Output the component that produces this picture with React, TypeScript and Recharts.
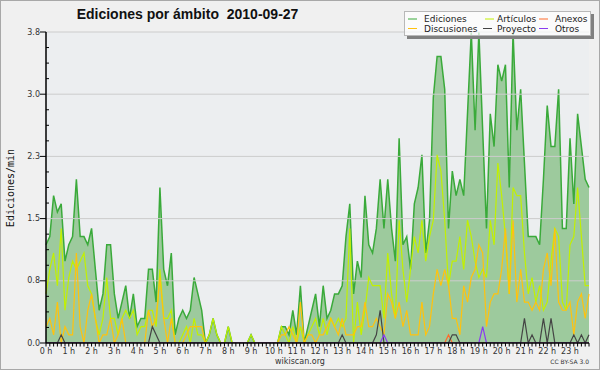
import React from 'react';
import { ComposedChart, Area, Line, XAxis, YAxis, ReferenceLine, CartesianGrid } from 'recharts';

const HOUR_LABELS = ["0 h","1 h","2 h","3 h","4 h","5 h","6 h","7 h","8 h","9 h","10 h","11 h","12 h","13 h","14 h","15 h","16 h","17 h","18 h","19 h","20 h","21 h","22 h","23 h"];

const EDICIONES = [
  1.2, 1.3, 1.8, 1.6, 1.7, 1.0, 1.2, 1.3, 2.0, 1.3,
  1.3, 1.2, 1.4, 0.9, 0.4, 0.6, 1.2, 1.2, 0.6, 0.3,
  0.5, 0.7, 0.3, 0.6, 0.2, 0.3, 0.3, 0.9, 0.9, 0.5,
  1.9, 0.9, 0.7, 1.1, 0.1, 0.3, 0.4, 0.3, 0.4, 0.8,
  0.6, 0.4, 0.0, 0.1, 0.3, 0.1, 0.0, 0.0, 0.2, 0.0,
  0, 0, 0, 0, 0.1, 0, 0, 0, 0, 0,
  0, 0, 0.2, 0.2, 0.1, 0.4, 0.1, 0.7, 0.0, 0.2,
  0.4, 0.6, 0.2, 0.7, 0.3, 0.4, 0.6, 0.6, 0.7, 1.3,
  1.7, 0.6, 1.0, 0.8, 1.8, 1.2, 1.1, 1.4, 2.0, 1.4,
  2.0, 1.4, 1.0, 2.5, 1.2, 1.3, 0.9, 1.7, 1.9, 2.3,
  1.1, 1.5, 3.0, 3.5, 3.5, 3.1, 1.4, 2.1, 1.8, 2.0,
  1.8, 2.8, 3.8, 2.6, 3.8, 2.6, 1.4, 2.8, 2.4, 3.4,
  3.2, 3.4, 1.9, 3.8, 2.6, 3.1, 2.2, 1.3, 1.3, 1.3,
  1.2, 2.0, 2.9, 2.4, 2.4, 3.1, 1.4, 1.4, 2.5, 1.7,
  2.8, 2.4, 2.0, 1.9,
];

const ARTICULOS = [
  0.6, 0.9, 1.1, 0.7, 1.4, 0.4, 0.8, 1.0, 0.9, 1.0,
  1.1, 0.7, 0.6, 0.3, 0.1, 0.3, 0.8, 0.3, 0.3, 0.1,
  0.3, 0.4, 0.3, 0.4, 0.1, 0.2, 0.2, 0.4, 0.4, 0.2,
  0.9, 0.3, 0.3, 0.4, 0.0, 0.0, 0.1, 0.2, 0.0, 0.3,
  0.1, 0.1, 0.0, 0.1, 0.3, 0.1, 0.0, 0.0, 0.2, 0.0,
  0, 0, 0, 0, 0.1, 0, 0, 0, 0, 0,
  0, 0, 0.2, 0.1, 0.0, 0.2, 0.0, 0.2, 0.0, 0.1,
  0.2, 0.3, 0.1, 0.3, 0.1, 0.3, 0.2, 0.3, 0.2, 0.3,
  1.4, 0.0, 0.5, 0.1, 0.4, 0.8, 0.7, 0.7, 0.7, 0.3,
  1.1, 0.6, 0.3, 1.5, 0.9, 0.5, 0.9, 1.3, 1.1, 1.5,
  1.0, 1.3, 1.5, 2.3, 2.1, 1.5, 0.7, 1.0, 1.0, 1.3,
  0.9, 1.5, 1.3, 1.0, 0.8, 0.9, 0.8, 1.5, 1.2, 2.2,
  1.8, 1.3, 0.6, 1.9, 1.8, 1.8, 1.1, 0.6, 0.8, 0.5,
  0.7, 0.4, 0.5, 1.0, 1.4, 1.3, 0.5, 0.4, 1.2, 1.3,
  1.9, 1.3, 0.7, 0.7,
];

const DISCUSIONES = [
  0.2, 0.3, 0.1, 0.5, 0.0, 0.2, 0.1, 0.1, 1.1, 0.2,
  0.0, 0.4, 0.6, 0.3, 0.0, 0.1, 0.1, 0.3, 0.0, 0.1,
  0.3, 0.0, 0.0, 0.0, 0.0, 0.0, 0.0, 0.4, 0.2, 0.3,
  0.8, 0.3, 0.0, 0.3, 0.0, 0.0, 0.0, 0.1, 0.2, 0.2,
  0.2, 0.2, 0, 0, 0, 0, 0, 0, 0, 0,
  0, 0, 0, 0, 0, 0, 0, 0, 0, 0,
  0, 0, 0.1, 0.1, 0.2, 0.1, 0.0, 0.5, 0.0, 0.1,
  0.1, 0.0, 0.1, 0.1, 0.2, 0.3, 0.2, 0.1, 0.3, 0.1,
  0.1, 0.1, 0.2, 0.2, 0.5, 0.2, 0.2, 0.3, 0.2, 0.1,
  0.6, 0.5, 0.3, 0.5, 0.2, 0.4, 0.1, 0.1, 0.1, 0.5,
  0.1, 0.2, 0.6, 0.9, 0.7, 0.9, 0.7, 0.3, 0.3, 0.1,
  0.7, 0.5, 0.8, 0.9, 1.2, 1.1, 0.2, 0.5, 0.6, 0.6,
  0.9, 1.4, 0.6, 1.5, 0.5, 0.9, 0.5, 0.5, 0.4, 0.5,
  0.4, 0.9, 1.1, 0.7, 1.4, 0.5, 0.4, 0.4, 0.5, 0.1,
  0.5, 0.6, 0.3, 0.6,
];

// sparse series: [10-minute slot index, value]
const ANEXOS_PTS: [number, number][] = [[106, 0.1]];
const PROYECTO_PTS: [number, number][] = [
  [4, 0.1], [28, 0.2], [29, 0.1], [78, 0.1], [87, 0.1], [88, 0.4], [107, 0.1], [108, 0.1],
  [126, 0.3], [128, 0.1], [131, 0.3], [133, 0.3], [139, 0.1], [141, 0.1], [143, 0.1],
];
const OTROS_PTS: [number, number][] = [[89, 0.1], [115, 0.2]];

const Y_MAJOR = [0, 0.76, 1.52, 2.28, 3.04, 3.8];
const Y_LABELS = ["0.0", "0.8", "1.5", "2.3", "3.0", "3.8"];

const N = EDICIONES.length;
const fromPts = (pts: [number, number][]) => {
  const a = new Array(N).fill(0);
  pts.forEach(([i, v]) => { a[i] = v; });
  return a;
};
const ANEXOS = fromPts(ANEXOS_PTS);
const PROYECTO = fromPts(PROYECTO_PTS);
const OTROS = fromPts(OTROS_PTS);

const data = EDICIONES.map((v, i) => ({
  i,
  ed: v,
  art: ARTICULOS[i],
  disc: DISCUSIONES[i],
  anx: ANEXOS[i],
  proy: PROYECTO[i],
  otr: OTROS[i],
}));

const X_TICKS = data.map((d) => d.i);
const Y_TICKS: number[] = [];
for (let k = 0; k < Y_MAJOR.length - 1; k++) {
  const a = Y_MAJOR[k], b = Y_MAJOR[k + 1];
  for (let j = 0; j < 4; j++) Y_TICKS.push(a + ((b - a) * j) / 4);
}
Y_TICKS.push(Y_MAJOR[Y_MAJOR.length - 1]);

const C_ED = '#3aaa3a';
const C_ED_FILL = '#9dca9d';
const C_ART = '#c2f000';
const C_DISC = '#ffc20e';
const C_ANX = '#ff6a2a';
const C_PROY = '#444444';
const C_OTR = '#8a3cf0';

const YTick = (props: any) => {
  const { x, y, payload } = props;
  const idx = Y_MAJOR.findIndex((m) => Math.abs(m - payload.value) < 1e-6);
  if (idx >= 0) {
    return (
      <g>
        <line x1={x - 6} x2={x} y1={y} y2={y} stroke="#000" strokeWidth={1} />
        <text x={x - 6} y={y} dy={2.5} textAnchor="end" fontSize={8} fill="#333" fontFamily="DejaVu Sans">
          {Y_LABELS[idx]}
        </text>
      </g>
    );
  }
  return <line x1={x} x2={x + 3} y1={y} y2={y} stroke="#000" strokeWidth={1} />;
};

const XTick = (props: any) => {
  const { x, y, payload } = props;
  const i = payload.value;
  const isHour = i % 6 === 0;
  return (
    <g>
      <line x1={x} x2={x} y1={y} y2={y + 3.5} stroke="#000" strokeWidth={1} />
      {isHour && (
        <text x={x} y={y + 10.5} textAnchor="middle" fontSize={8} fill="#333" fontFamily="DejaVu Sans">
          {HOUR_LABELS[i / 6]}
        </text>
      )}
    </g>
  );
};

const LEGEND = [
  { name: 'Ediciones', color: C_ED, sx: 408, tx: 424, row: 0 },
  { name: 'Artículos', color: C_ART, sx: 485, tx: 497, row: 0 },
  { name: 'Anexos', color: C_ANX, sx: 539, tx: 555, row: 0 },
  { name: 'Discusiones', color: C_DISC, sx: 408, tx: 424, row: 1 },
  { name: 'Proyecto', color: C_PROY, sx: 483, tx: 497, row: 1 },
  { name: 'Otros', color: C_OTR, sx: 539, tx: 555, row: 1 },
];

export default function App() {
  return (
    <div style={{ position: 'absolute', left: 0, top: 0, width: 600, height: 370, background: '#f0f0f0', overflow: 'hidden' }}>
      <ComposedChart
        width={600}
        height={370}
        data={data}
        margin={{ top: 32, right: 11, bottom: 0, left: 0 }}
        style={{ fontFamily: 'DejaVu Sans' }}
      >
        <CartesianGrid horizontal={false} vertical={false} fill="#eceef0" fillOpacity={1} stroke="none" />
        {Y_MAJOR.slice(1).map((v) => (
          <ReferenceLine key={v} y={v} stroke="#cccccc" strokeWidth={1} ifOverflow="extendDomain" />
        ))}
        <Area type="linear" dataKey="ed" stroke={C_ED} strokeWidth={1.5} fill={C_ED_FILL} fillOpacity={1} dot={false} activeDot={false} isAnimationActive={false} />
        <Line type="linear" dataKey="art" stroke={C_ART} strokeWidth={1.2} dot={false} activeDot={false} isAnimationActive={false} />
        <Line type="linear" dataKey="disc" stroke={C_DISC} strokeWidth={1.2} dot={false} activeDot={false} isAnimationActive={false} />
        <Line type="linear" dataKey="anx" stroke={C_ANX} strokeWidth={1.2} dot={false} activeDot={false} isAnimationActive={false} />
        <Line type="linear" dataKey="proy" stroke={C_PROY} strokeWidth={1.2} dot={false} activeDot={false} isAnimationActive={false} />
        <Line type="linear" dataKey="otr" stroke={C_OTR} strokeWidth={1.2} dot={false} activeDot={false} isAnimationActive={false} />
        <XAxis
          dataKey="i"
          type="number"
          domain={[0, N - 1]}
          ticks={X_TICKS}
          interval={0}
          tickSize={0}
          tickMargin={0}
          height={27}
          tick={<XTick />}
          axisLine={{ stroke: '#000', strokeWidth: 1.5 }}
          tickLine={false}
        />
        <YAxis
          type="number"
          domain={[0, 3.8]}
          ticks={Y_TICKS}
          interval={0}
          tickSize={0}
          tickMargin={0}
          width={46}
          tick={<YTick />}
          axisLine={{ stroke: '#000', strokeWidth: 1.5 }}
          tickLine={false}
          allowDataOverflow
        />
      </ComposedChart>

      <svg width={600} height={370} style={{ position: 'absolute', left: 0, top: 0, pointerEvents: 'none' }}>
        <text x={187.5} y={19} textAnchor="middle" fontSize={14} fontWeight="bold" fill="#111" fontFamily="Liberation Sans" style={{ whiteSpace: 'pre' }}>
          {'Ediciones por ámbito  2010-09-27'}
        </text>
        <text transform="translate(13.5,188) rotate(-90)" textAnchor="middle" fontSize={10} fill="#111" fontFamily="DejaVu Sans Mono">
          Ediciones/min
        </text>
        <text x={300} y={364} textAnchor="middle" fontSize={8} fill="#333" fontFamily="DejaVu Sans">
          wikiscan.org
        </text>
        <text x={589} y={364} textAnchor="end" fontSize={6} fill="#333" fontFamily="DejaVu Sans">
          CC BY-SA 3.0
        </text>
      </svg>

      <div
        style={{
          position: 'absolute', left: 404, top: 11, width: 187, height: 25,
          background: 'rgba(255,255,255,0.72)', border: '1px solid #b8b8b8',
          boxShadow: '3px 3px 0 #808080', boxSizing: 'border-box',
        }}
      />
      <svg width={600} height={370} style={{ position: 'absolute', left: 0, top: 0, pointerEvents: 'none' }}>
        {LEGEND.map((l) => (
          <g key={l.name}>
            <line x1={l.sx} x2={l.sx + 9} y1={19 + l.row * 9.5} y2={19 + l.row * 9.5} stroke={l.color} strokeWidth={1} />
            <text x={l.tx} y={22 + l.row * 9.5} fontSize={9} fill="#222" fontFamily="DejaVu Sans">{l.name}</text>
          </g>
        ))}
      </svg>

      <div style={{ position: 'absolute', left: 0, top: 0, width: 600, height: 370, border: '1px solid #a8a8a8', boxSizing: 'border-box', pointerEvents: 'none' }} />
    </div>
  );
}
